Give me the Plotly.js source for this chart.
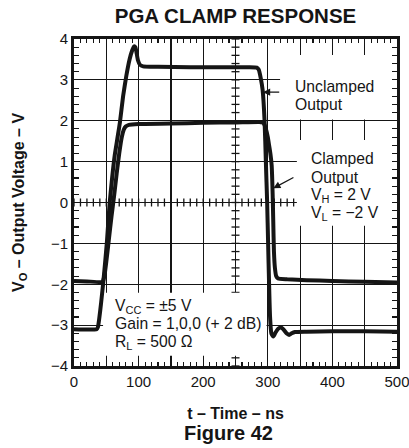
<!DOCTYPE html>
<html>
<head>
<meta charset="utf-8">
<script src="https://cdn.plot.ly/plotly-3.0.1.min.js"></script>
<style>html,body{margin:0;padding:0;background:#fff;}#chart{width:409px;height:448px;}</style>
</head>
<body>
<div id="chart"></div>
<script>
// ---- data ----
const tUnclamped = [0, 20, 35, 37, 39, 42, 45, 48, 51, 55, 59, 63, 67, 71, 76, 81, 86, 90, 93, 95, 97, 99, 102, 107, 130, 180, 230, 270, 283, 286, 289, 292, 295, 297, 299, 300.5, 302, 303.5, 305.5, 308.5, 312, 316, 320, 324, 329, 333, 337, 342, 360, 400, 450, 500];
const vUnclamped = [-3.10, -3.11, -3.10, -3.05, -2.85, -2.45, -2.0, -1.5, -0.95, -0.05, 0.6, 1.15, 1.55, 1.95, 2.6, 3.1, 3.5, 3.72, 3.82, 3.80, 3.65, 3.48, 3.37, 3.33, 3.32, 3.31, 3.31, 3.31, 3.30, 3.25, 3.05, 2.75, 2.0, 1.0, 0.0, -1.0, -2.0, -2.8, -3.2, -3.28, -3.18, -3.09, -3.06, -3.10, -3.20, -3.24, -3.20, -3.17, -3.16, -3.15, -3.15, -3.16];
const tClamped = [0, 20, 44, 47, 50, 54, 58, 62, 66, 70, 74, 77, 80, 85, 100, 150, 200, 250, 287, 291, 294, 297, 300, 302, 304, 306, 307.5, 308.5, 309.5, 311, 313, 316, 330, 360, 400, 450, 500];
const vClamped = [-1.92, -1.93, -1.94, -1.80, -1.45, -0.90, -0.35, 0.15, 0.70, 1.20, 1.60, 1.78, 1.86, 1.90, 1.92, 1.93, 1.95, 1.96, 1.97, 1.96, 1.93, 1.80, 1.60, 1.40, 1.20, 0.90, 0.20, -0.50, -1.20, -1.60, -1.80, -1.86, -1.88, -1.90, -1.92, -1.94, -1.96];

const xTickVals = [0, 50, 100, 150, 200, 250, 300, 350, 400, 450, 500];
const xTickText = ['0', '', '100', '', '200', '', '300', '', '400', '', '500'];
const yTickVals = [-4, -3, -2, -1, 0, 1, 2, 3, 4];
const yTickText = ['\u22124', '\u22123', '\u22122', '\u22121', '0', '1', '2', '3', '4'];

const FONT = 'Liberation Sans, Arial, Helvetica, sans-serif';
const INK = '#151515';

const traces = [
  {x: tUnclamped, y: vUnclamped, type: 'scatter', mode: 'lines', name: 'Unclamped Output',
   line: {color: INK, width: 4, shape: 'spline', smoothing: 0.5}, hoverinfo: 'skip'},
  {x: tClamped, y: vClamped, type: 'scatter', mode: 'lines', name: 'Clamped Output',
   line: {color: INK, width: 4, shape: 'spline', smoothing: 0.5}, hoverinfo: 'skip'}
];

// scope-style crossing ticks on the centre lines (y = 0 and t = 250 ns)
const shapes = [];
for (let t = 0; t <= 500; t += 10) {
  shapes.push({type: 'line', layer: 'between', xref: 'x', yref: 'y', ysizemode: 'pixel', yanchor: 0,
    x0: t, x1: t, y0: -4, y1: 4, line: {color: INK, width: 1.3}});
}
for (let k = -20; k <= 20; k++) {
  const v = k / 5;
  shapes.push({type: 'line', layer: 'between', xref: 'x', yref: 'y', xsizemode: 'pixel', xanchor: 250,
    x0: -4, x1: 4, y0: v, y1: v, line: {color: INK, width: 1.3}});
}
// white label panels that interrupt the graticule
const panels = [
  [319, 500, 2.03, 3.61],
  [345, 500, -0.57, 1.53],
  [45, 298, -3.75, -2.21]
];
panels.forEach(p => shapes.push({type: 'rect', layer: 'between', xref: 'x', yref: 'y',
  x0: p[0], x1: p[1], y0: p[2], y1: p[3], fillcolor: '#ffffff', line: {width: 0}}));

const annFont = {family: FONT, size: 15.7, color: INK};
function label(text, x, y) {
  return {text: text, x: x, y: y, xref: 'x', yref: 'y', xanchor: 'left', yanchor: 'middle',
    showarrow: false, font: annFont, align: 'left'};
}
const annotations = [
  label('Unclamped', 339.5, 2.85),
  label('Output', 339.5, 2.40),
  label('Clamped', 363.8, 1.07),
  label('Output', 363.8, 0.60),
  label('V<sub>H</sub> = 2 V', 363.8, 0.16),
  label('V<sub>L</sub> = \u22122 V', 363.8, -0.28),
  label('V<sub>CC</sub> = \u00b15 V', 60.8, -2.54),
  label('Gain = 1,0,0 (+ 2 dB)', 60.8, -2.97),
  label('R<sub>L</sub> = 500 \u03a9', 60.8, -3.42),
  {text: '', x: 292.6, y: 2.70, ax: 320, ay: 2.70, xref: 'x', yref: 'y', axref: 'x', ayref: 'y',
   showarrow: true, arrowhead: 2, arrowsize: 1.1, arrowwidth: 1.3, arrowcolor: INK},
  {text: '', x: 308.5, y: 0.35, ax: 342, ay: 0.63, xref: 'x', yref: 'y', axref: 'x', ayref: 'y',
   showarrow: true, arrowhead: 2, arrowsize: 1.1, arrowwidth: 1.3, arrowcolor: INK},
  {text: '<b>Figure 42</b>', xref: 'paper', yref: 'paper', x: 0.477, y: -0.205,
   xanchor: 'center', yanchor: 'middle', showarrow: false, font: {family: FONT, size: 20, color: INK}}
];

const layout = {
  width: 409, height: 448,
  margin: {l: 74, r: 12, t: 39, b: 82},
  paper_bgcolor: '#ffffff', plot_bgcolor: '#ffffff',
  showlegend: false,
  font: {family: FONT, color: INK},
  title: {text: '<b>PGA CLAMP RESPONSE</b>', font: {family: FONT, size: 20.5, color: INK},
    x: 0.5, xref: 'paper', xanchor: 'center', y: 1 - 15.5 / 448, yref: 'container', yanchor: 'middle'},
  xaxis: {
    range: [0, 500], tickmode: 'array', tickvals: xTickVals, ticktext: xTickText,
    ticks: 'inside', ticklen: 5, tickwidth: 1.2, tickcolor: INK,
    showgrid: true, gridcolor: INK, gridwidth: 1.2, zeroline: false,
    showline: true, linecolor: INK, linewidth: 3, mirror: 'ticks',
    ticklabeloverflow: 'allow',
    minor: {tickmode: 'linear', tick0: 0, dtick: 10, ticks: 'inside', ticklen: 4, tickwidth: 1.1, tickcolor: INK, showgrid: false},
    tickfont: {family: FONT, size: 15, color: INK},
    title: {text: '<b>t \u2013 Time \u2013 ns</b>', font: {family: FONT, size: 16, color: INK}, standoff: 19},
    fixedrange: true
  },
  yaxis: {
    range: [-4, 4], tickmode: 'array', tickvals: yTickVals, ticktext: yTickText,
    ticks: 'inside', ticklen: 5, tickwidth: 1.2, tickcolor: INK,
    showgrid: true, gridcolor: INK, gridwidth: 1.2, zeroline: false,
    showline: true, linecolor: INK, linewidth: 3, mirror: 'ticks',
    minor: {tickmode: 'linear', tick0: 0, dtick: 0.2, ticks: 'inside', ticklen: 5, tickwidth: 1.1, tickcolor: INK, showgrid: false},
    tickfont: {family: FONT, size: 15, color: INK},
    title: {text: '<b>V<sub>O</sub> \u2013 Output Voltage \u2013 V</b>', font: {family: FONT, size: 16, color: INK}, standoff: 23},
    fixedrange: true
  },
  shapes: shapes,
  annotations: annotations
};

Plotly.newPlot('chart', traces, layout, {displayModeBar: false, staticPlot: true});
</script>
</body>
</html>
